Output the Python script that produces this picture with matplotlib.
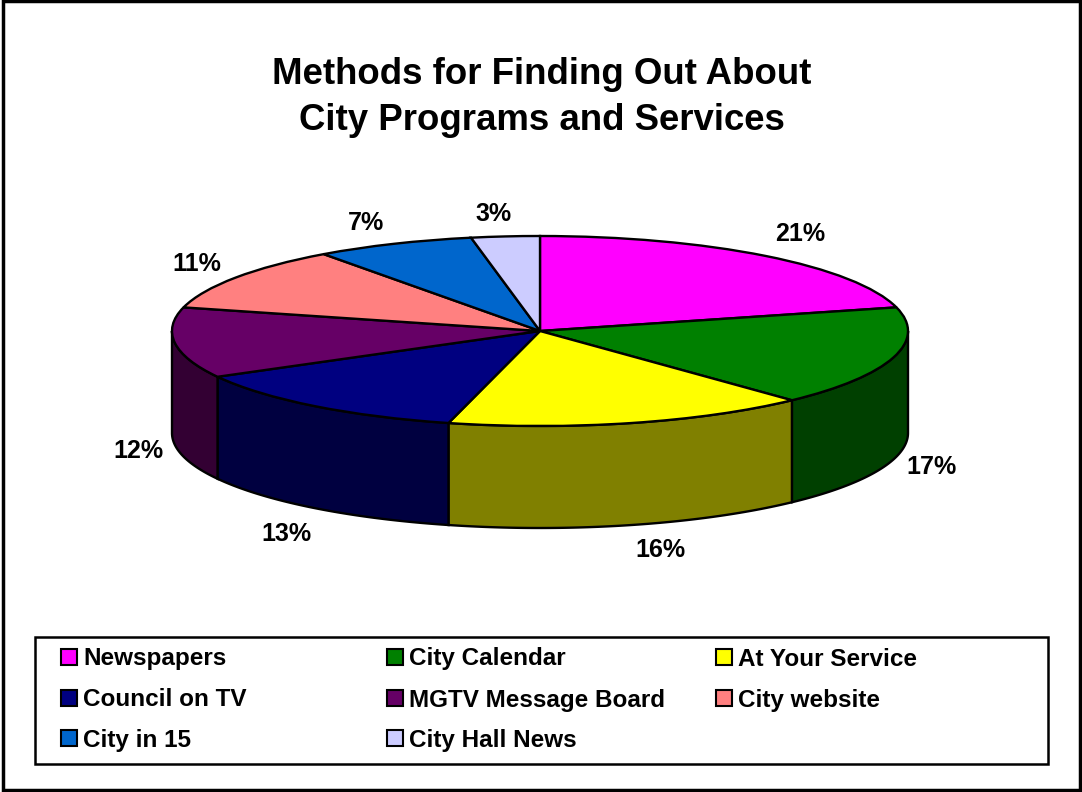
import numpy as np
import matplotlib
matplotlib.use("Agg")
import matplotlib.pyplot as plt
from matplotlib.patches import Rectangle

plt.rcParams['font.family'] = ['Liberation Sans', 'DejaVu Sans']

categorias = ["Newspapers", "City Calendar", "At Your Service", "Council on TV",
              "MGTV Message Board", "City website", "City in 15", "City Hall News"]
valores = [21, 17, 16, 13, 12, 11, 7, 3]
colores = ["#FF00FF", "#008000", "#FFFF00", "#000080",
           "#660066", "#FF8080", "#0066CC", "#CCCCFF"]
colores_lado = ["#800080", "#004000", "#808000", "#000040",
                "#330033", "#804040", "#003366", "#666680"]

W, H = 1082, 792
CX, CY, RX, RY, PROF = 540, 331, 368, 95, 102

# donde van los textos de porcentaje (pixeles)
pos_etiquetas = [(800, 234), (931, 467), (660, 550), (286, 534),
                 (138, 451), (197, 264), (366, 223), (494, 214)]
# filas y columnas de la leyenda (pixeles)
pos_leyenda = [(60, 657), (386, 657), (715, 657),
               (60, 698), (386, 698), (715, 698),
               (60, 738), (386, 738)]

fig = plt.figure(figsize=(W / 100, H / 100), dpi=100)
fondo = fig.add_axes([0, 0, 1, 1])
fondo.set_xlim(0, W)
fondo.set_ylim(H, 0)
fondo.axis("off")
fondo.add_patch(Rectangle((2.5, 1), W - 5, H - 3, fc="white", ec="black", lw=2.5))

# eje con radio 1 = elipse de la torta
ax = fig.add_axes([(CX - RX) / W, 1 - (CY + RY + PROF + 6) / H, 2 * RX / W, (2 * RY + PROF + 6) / H])
ax.set_xlim(-1, 1)
ax.set_ylim(-1 - (PROF + 6) / RY, 1)
ax.patch.set_alpha(0)

# lados de la torta, solo la parte de adelante
fin = np.cumsum(valores) / sum(valores) * 2 * np.pi
ini = np.r_[0, fin[:-1]]
prof = PROF / RY
for a, b, c in zip(ini, fin, colores_lado):
    a2, b2 = max(a, np.pi / 2), min(b, 3 * np.pi / 2)
    if a2 >= b2:
        continue
    t = np.linspace(a2, b2, 80)
    xs = np.sin(t)
    ys = np.cos(t)
    ax.fill(np.r_[xs, xs[::-1]], np.r_[ys, ys[::-1] - prof], fc=c, ec="black", lw=1.7, zorder=1)

ax.pie(valores, colors=colores, startangle=90, counterclock=False, radius=1,
       wedgeprops={"edgecolor": "black", "linewidth": 1.7, "zorder": 2})
ax.set_aspect("auto")
ax.set_xlim(-1, 1)
ax.set_ylim(-1 - (PROF + 6) / RY, 1)
ax.axis("off")
for p in ax.patches:
    p.set_clip_on(False)

fondo.text(542, 74, "Methods for Finding Out About", ha="center", va="center",
           fontsize=26.4, fontweight="bold")
fondo.text(542, 121, "City Programs and Services", ha="center", va="center",
           fontsize=26.4, fontweight="bold")

for v, (x, y) in zip(valores, pos_etiquetas):
    fondo.text(x, y, f"{v}%", ha="center", va="center", fontsize=18, fontweight="bold")

fondo.add_patch(Rectangle((35, 637), 1013, 127, fc="white", ec="black", lw=1.8))
for nombre, c, (x, y) in zip(categorias, colores, pos_leyenda):
    fondo.add_patch(Rectangle((x + 1, y - 8), 16, 16, fc=c, ec="black", lw=1.5))
    fondo.text(x + 23, y + 2, nombre, ha="left", va="center", fontsize=17.5, fontweight="bold")

fig.savefig("out.png", dpi=100)
